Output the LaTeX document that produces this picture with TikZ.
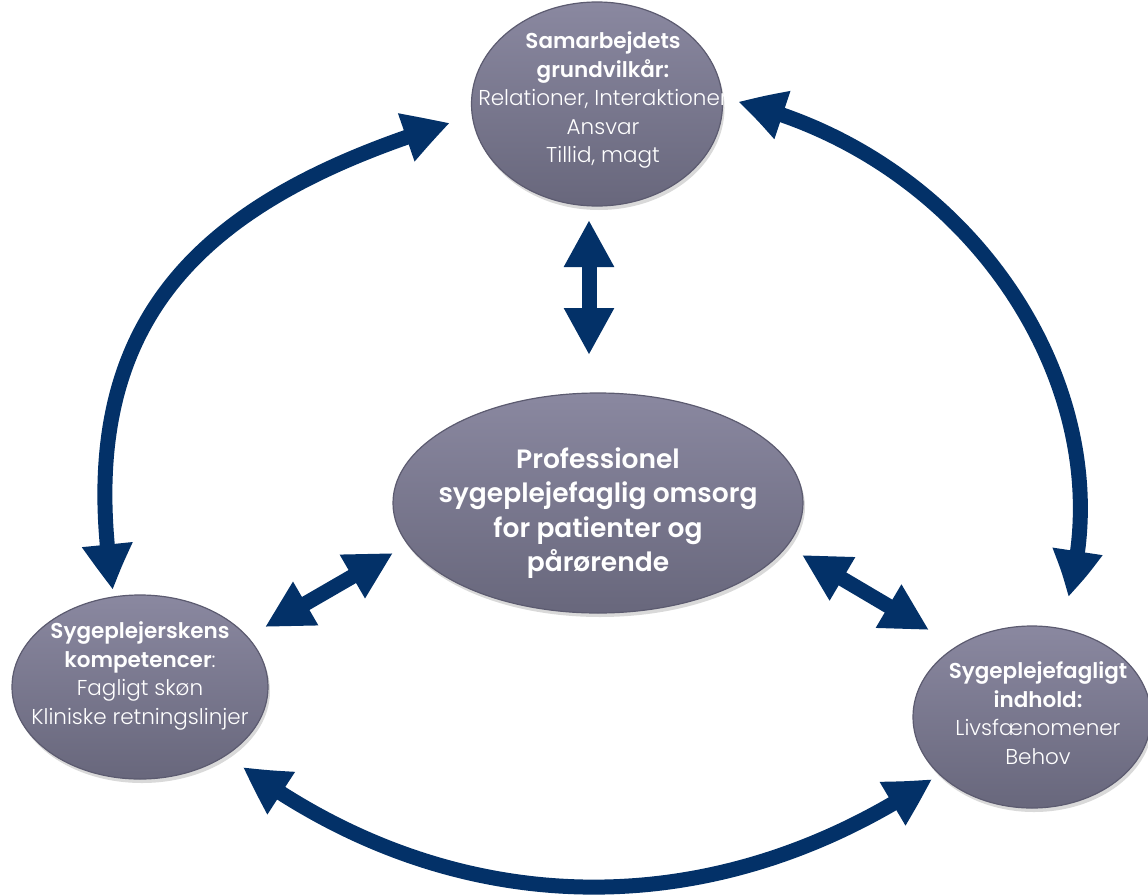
\documentclass[tikz,border=0pt]{standalone}
\usepackage{fontspec}
\IfFontExistsTF{Poppins Light}{%
  \IfFontExistsTF{Poppins SemiBold}{%
    \setmainfont{Poppins Light}[BoldFont={Poppins SemiBold}]}{%
    \setmainfont{Poppins Light}[BoldFont={Poppins}]}}{%
  \setmainfont{Poppins}}
\usetikzlibrary{shapes.geometric,arrows.meta,bending,shadows}
\definecolor{navy}{RGB}{3,49,104}
\definecolor{bubtop}{RGB}{138,136,160}
\definecolor{bubbot}{RGB}{104,103,124}
\definecolor{bubrim}{RGB}{92,91,112}
\tikzset{
  bubble/.style={ellipse, inner sep=0pt, top color=bubtop, bottom color=bubbot,
    draw=bubrim, line width=1.2pt,
    drop shadow={opacity=0.3, shadow xshift=2pt, shadow yshift=-4pt}},
  txt/.style={text=white, align=center, inner sep=0pt, font=\fontsize{21.5}{28.5}\selectfont},
  bigtxt/.style={text=white, align=center, inner sep=0pt, font=\fontsize{26.5}{34.5}\selectfont\bfseries},
  dbl/.style={draw=navy, line width=15pt,
    {Triangle[length=47pt,width=47pt,bend]}-{Triangle[length=47pt,width=47pt,bend]}}
}
\begin{document}
\begin{tikzpicture}[x=1pt,y=-1pt]
\useasboundingbox (0,0) rectangle (1148,894);
% ellipses
\node[bubble, minimum width=251pt, minimum height=204pt] (top) at (597,104) {};
\node[bubble, minimum width=410pt, minimum height=220pt] (ctr) at (598,503) {};
\node[bubble, minimum width=256pt, minimum height=184pt] (lft) at (140,687) {};
\node[bubble, minimum width=238pt, minimum height=182pt] (rgt) at (1032,717) {};
% arrow end points
\coordinate (vA) at (589,220);
\coordinate (vB) at (589,355);
\coordinate (lA) at (265,627);
\coordinate (lB) at (393,553);
\coordinate (rA) at (802,555);
\coordinate (rB) at (929,630);
\coordinate (tlA) at (450,123);
\coordinate (tlB) at (113,590);
\coordinate (trA) at (738,102);
\coordinate (trB) at (1068,597);
\coordinate (bA) at (243,767);
\coordinate (bB) at (932,779);
% arrows
\draw[dbl] (vA) -- (vB);
\draw[dbl] (lA) -- (lB);
\draw[dbl] (rA) -- (rB);
\draw[dbl] (tlA) .. controls (200,200) and (70,320) .. (tlB);
\draw[dbl] (trA) .. controls (980,160) and (1125,400) .. (trB);
\draw[dbl] (bA) .. controls (453,922) and (711,928) .. (bB);
% texts
\node[txt] (toptxt) at (603,100) {\textbf{Samarbejdets}\\\textbf{grundvilkår:}\\Relationer, Interaktioner\\Ansvar\\Tillid, magt};
\node[bigtxt] (ctrtxt) at (598,513) {Professionel\\sygeplejefaglig omsorg\\for patienter og\\pårørende};
\node[txt] (lfttxt) at (140,676) {\textbf{Sygeplejerskens}\\\textbf{kompetencer}:\\Fagligt skøn\\Kliniske retningslinjer};
\node[txt] (rgttxt) at (1038,713) {\textbf{Sygeplejefagligt}\\\textbf{indhold:}\\Livsfænomener\\Behov};
\end{tikzpicture}
\end{document}
